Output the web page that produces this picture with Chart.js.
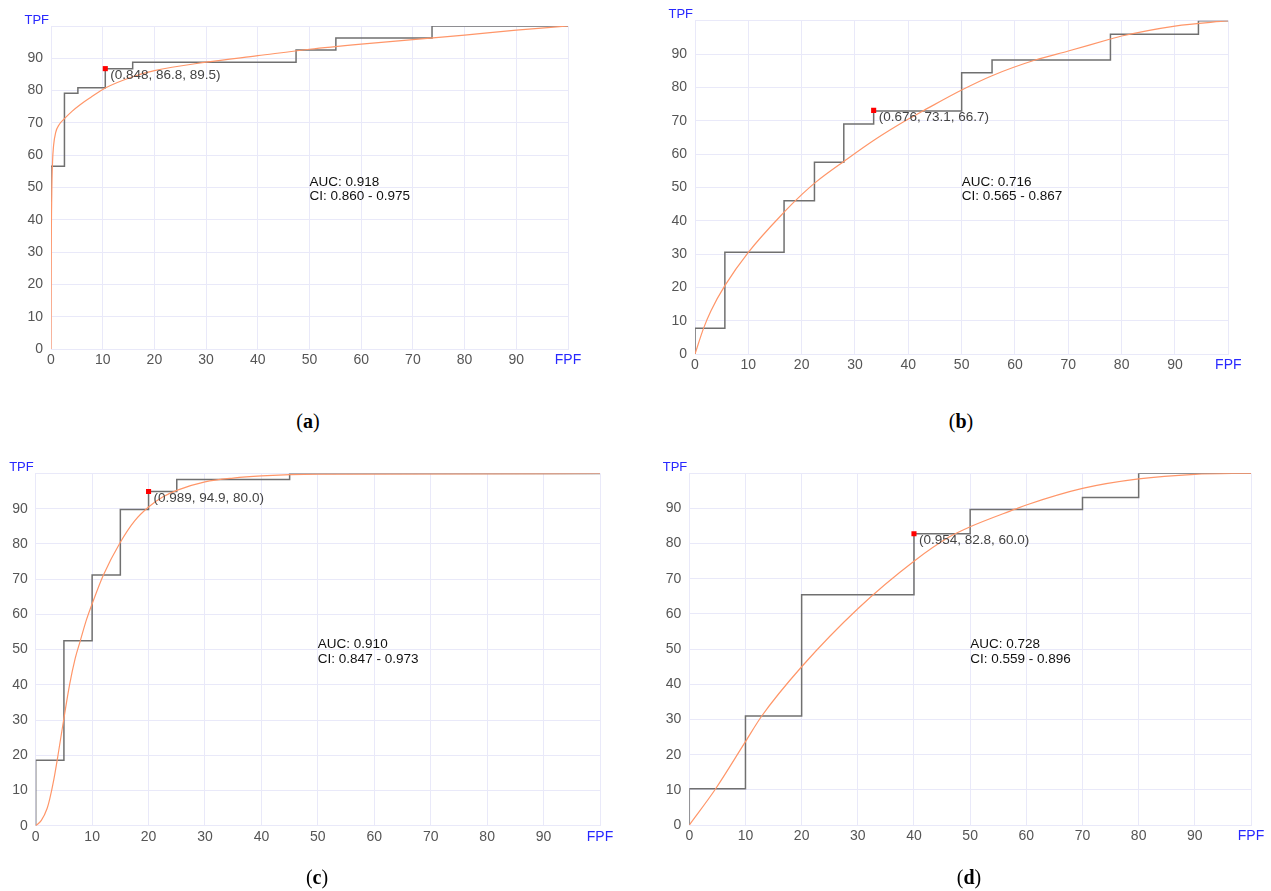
<!DOCTYPE html>
<html>
<head>
<meta charset="utf-8">
<script src="https://cdn.jsdelivr.net/npm/chart.js@4.4.0/dist/chart.umd.min.js"></script>
<style>
  body { margin: 0; background: #fff; width: 1271px; height: 891px; position: relative; overflow: hidden; }
  canvas { position: absolute; }
  .cap { position: absolute; font: 20px "Liberation Serif", "DejaVu Serif", serif; color: #000; transform: translate(-50%, -50%); white-space: nowrap; }
</style>
</head>
<body>
<canvas id="rocA" width="600" height="372" style="left:0;top:0"></canvas>
<canvas id="rocB" width="631" height="372" style="left:640px;top:0"></canvas>
<canvas id="rocC" width="640" height="451" style="left:0;top:440px"></canvas>
<canvas id="rocD" width="631" height="451" style="left:640px;top:440px"></canvas>
<div class="cap" style="left:308px;top:421px">(<b>a</b>)</div>
<div class="cap" style="left:961px;top:421px">(<b>b</b>)</div>
<div class="cap" style="left:317px;top:877px">(<b>c</b>)</div>
<div class="cap" style="left:969px;top:877px">(<b>d</b>)</div>
<script>
// empirical ROC steps (FPF, TPF in %)
var stepFpfA = [0, 0, 2.6, 5.2, 10.5, 15.8, 47.4, 55.1, 73.7, 100];
var stepTpfA = [45.6, 56.6, 79.2, 80.9, 86.8, 88.8, 92.6, 96.3, 100, 100];
var stepFpfB = [0, 0, 5.6, 16.7, 22.4, 27.9, 33.5, 50, 55.7, 77.9, 94.4, 100];
var stepTpfB = [0, 7.7, 30.5, 46, 57.5, 69, 72.9, 84.4, 88.2, 95.9, 100, 100];
var stepFpfC = [0, 0, 5, 10, 15, 20, 25, 45, 100];
var stepTpfC = [0, 18.6, 52.5, 71.2, 89.8, 94.9, 98.3, 100, 100];
var stepFpfD = [0, 0, 10, 20, 40, 50, 70, 80, 100];
var stepTpfD = [0, 10.3, 31.0, 65.5, 82.8, 89.7, 93.1, 100, 100];

// fitted curves
var fitFpfA = [0, 0.05, 0.15, 0.3, 0.5, 0.9, 1.6, 2.6, 4, 5.7, 7.6, 10.5, 15.8, 20, 30, 40, 50, 60, 70, 80, 90, 100];
var fitTpfA = [0, 30, 48, 58, 63, 67, 69.5, 71.3, 73.5, 75.7, 77.8, 80.8, 84.3, 86.2, 88.8, 90.8, 92.8, 94.4, 95.8, 97.2, 98.7, 100];
var fitFpfB = [0, 1.6, 3, 5.6, 10, 16.8, 20, 22.6, 28.1, 33.9, 40, 42.7, 50, 55.7, 63.8, 70, 77.9, 80, 90, 100];
var fitTpfB = [0, 7.7, 13, 20.5, 30.5, 42.7, 47.8, 51.5, 58, 64.5, 70.5, 72.9, 79.2, 83.5, 88.2, 90.9, 94.5, 95.4, 98.4, 100];
var fitFpfC = [0, 1, 2, 2.5, 3.2, 4, 5, 6, 7, 7.9, 9, 10, 12, 15, 17.5, 20, 22.5, 25, 30, 35, 40, 50, 100];
var fitTpfC = [0, 1.5, 4.8, 7.7, 13, 20.5, 30.5, 40, 47.5, 52.5, 58.5, 63, 71.2, 80.5, 86.5, 90.5, 93.3, 95.2, 97.6, 98.7, 99.3, 99.8, 100];
var fitFpfD = [0, 4.6, 10, 12.9, 20, 30, 40, 46.4, 50, 58, 60, 70, 80, 90, 100];
var fitTpfD = [0, 10.1, 23.7, 31, 45, 61.5, 75, 82, 84.8, 89.8, 91, 95.7, 98.4, 99.7, 100];

// optimal cut-off points and their labels
var cutA = [10.5, 86.8], cutB = [33.5, 73.1], cutC = [20, 94.9], cutD = [40, 82.8];
var cutLabels = ['(0.848, 86.8, 89.5)', '(0.676, 73.1, 66.7)', '(0.989, 94.9, 80.0)', '(0.954, 82.8, 60.0)'];
var aucValues = ['0.918', '0.716', '0.910', '0.728'];
var ciValues = ['0.860 - 0.975', '0.565 - 0.867', '0.847 - 0.973', '0.559 - 0.896'];
var axisTicks = [0, 10, 20, 30, 40, 50, 60, 70, 80, 90, 100];

var blue = 'rgb(40,40,255)';
var gridColor = '#e9e9f9';

function pts(xs, ys) {
    var out = [];
    for (var i = 0; i < xs.length; i++) out.push({x: xs[i], y: ys[i]});
    return out;
}

var rocText = {
    id: 'rocText',
    afterDatasetsDraw: function (chart, args, opts) {
        var ctx = chart.ctx, x = chart.scales.x, y = chart.scales.y, area = chart.chartArea;
        ctx.save();
        ctx.font = '13.5px "Liberation Sans", Arial, sans-serif';
        ctx.textBaseline = 'middle';
        ctx.textAlign = 'left';
        ctx.fillStyle = '#444';
        ctx.fillText(opts.label, x.getPixelForValue(opts.point[0]) + 5, y.getPixelForValue(opts.point[1]) + 6.5);
        ctx.fillStyle = '#111';
        ctx.fillText('AUC: ' + opts.auc, x.getPixelForValue(50), y.getPixelForValue(51.5));
        ctx.fillText('CI: ' + opts.ci, x.getPixelForValue(50), y.getPixelForValue(47.2));
        ctx.fillStyle = blue;
        ctx.textAlign = 'right';
        ctx.font = '13px "Liberation Sans", Arial, sans-serif';
        ctx.fillText('TPF', area.left - 2, area.top - 6);
        ctx.restore();
    }
};

function makeRoc(id, stepX, stepY, fitX, fitY, cut, idx, geo) {
    return new Chart(document.getElementById(id), {
        type: 'line',
        data: {
            datasets: [
                {
                    data: [{x: cut[0], y: cut[1]}],
                    showLine: false,
                    pointStyle: 'rect',
                    pointRadius: 3.6,
                    pointBorderWidth: 0,
                    pointBackgroundColor: '#ff0000',
                    order: 0
                },
                {
                    data: pts(fitX, fitY),
                    borderColor: 'rgb(255,150,105)',
                    borderWidth: 1.2,
                    pointRadius: 0,
                    cubicInterpolationMode: 'monotone',
                    order: 1
                },
                {
                    data: pts(stepX, stepY),
                    borderColor: '#707070',
                    borderWidth: 1.5,
                    pointRadius: 0,
                    stepped: 'before',
                    order: 2
                }
            ]
        },
        options: {
            responsive: false,
            animation: false,
            events: [],
            layout: {padding: {left: 0, top: geo.top, right: geo.right, bottom: 0}},
            plugins: {
                legend: {display: false},
                tooltip: {enabled: false},
                rocText: {label: cutLabels[idx], auc: aucValues[idx], ci: ciValues[idx], point: cut}
            },
            scales: {
                x: {
                    type: 'linear', min: 0, max: 100,
                    afterBuildTicks: function (s) { s.ticks = axisTicks.map(function (v) { return {value: v}; }); },
                    afterFit: function (s) { s.height = geo.xh; },
                    grid: {color: gridColor, drawTicks: false},
                    border: {color: gridColor},
                    ticks: {
                        autoSkip: false, maxRotation: 0, padding: 3,
                        font: {family: '"Liberation Sans", Arial, sans-serif', size: 14},
                        color: function (c) { return c.tick && c.tick.value === 100 ? blue : '#555'; },
                        callback: function (v) { return v === 100 ? 'FPF' : v; }
                    }
                },
                y: {
                    type: 'linear', min: 0, max: 100,
                    afterBuildTicks: function (s) { s.ticks = axisTicks.map(function (v) { return {value: v}; }); },
                    afterFit: function (s) { s.width = geo.yw; },
                    grid: {color: gridColor, drawTicks: false},
                    border: {color: gridColor},
                    ticks: {
                        autoSkip: false, padding: 8,
                        font: {family: '"Liberation Sans", Arial, sans-serif', size: 14},
                        color: '#555',
                        callback: function (v) { return v === 100 ? '' : v; }
                    }
                }
            }
        },
        plugins: [rocText]
    });
}

makeRoc('rocA', stepFpfA, stepTpfA, fitFpfA, fitTpfA, cutA, 0, {top: 26, right: 32, yw: 51, xh: 23});
makeRoc('rocB', stepFpfB, stepTpfB, fitFpfB, fitTpfB, cutB, 1, {top: 20.7, right: 42.7, yw: 55, xh: 18});
makeRoc('rocC', stepFpfC, stepTpfC, fitFpfC, fitTpfC, cutC, 2, {top: 33.5, right: 40, yw: 35.7, xh: 65.3});
makeRoc('rocD', stepFpfD, stepTpfD, fitFpfD, fitTpfD, cutD, 3, {top: 33.3, right: 20, yw: 49.3, xh: 66});
</script>
</body>
</html>
